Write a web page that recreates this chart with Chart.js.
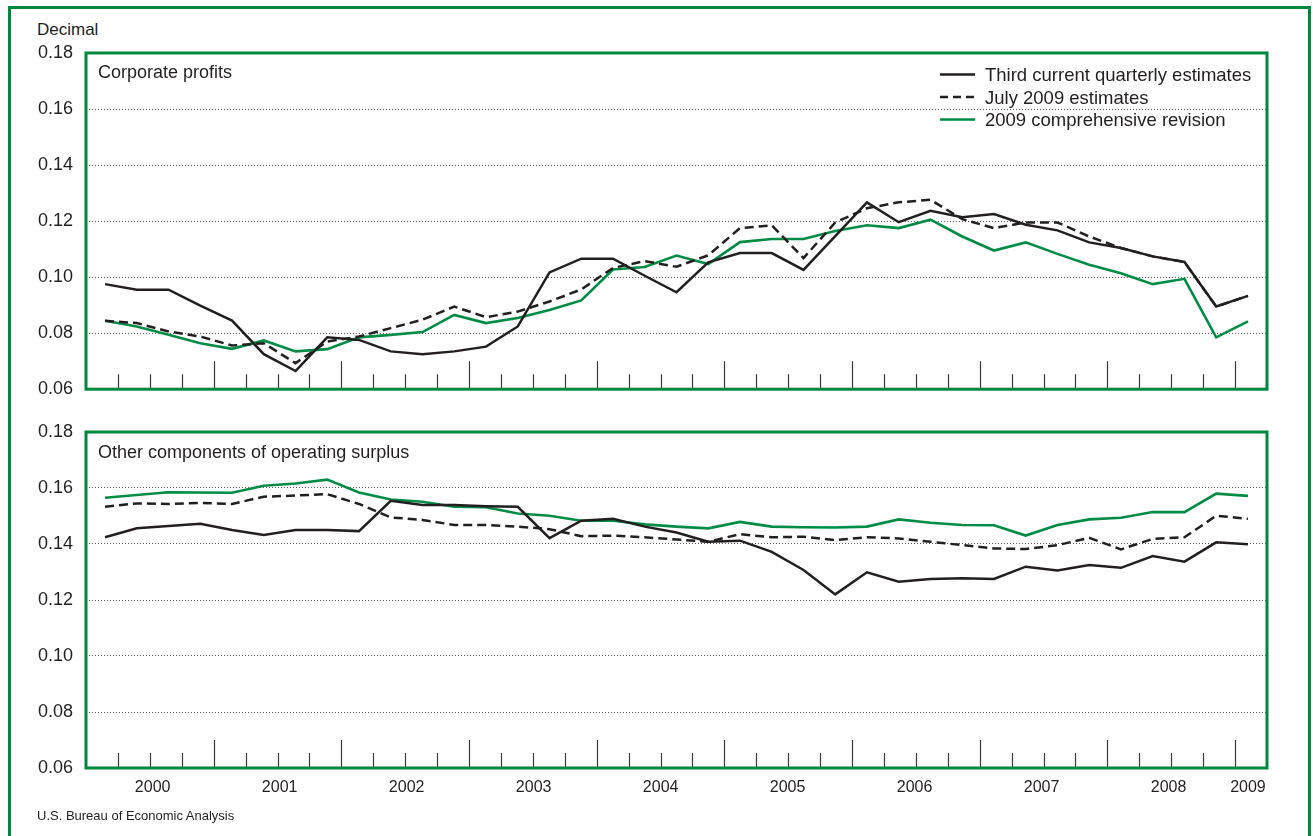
<!DOCTYPE html>
<html>
<head>
<meta charset="utf-8">
<script src="https://cdn.jsdelivr.net/npm/chart.js@4.4.1/dist/chart.umd.min.js"></script>
<style>
  html, body { margin:0; padding:0; background:#fff; width:1313px; height:836px; overflow:hidden;
    font-family:"Liberation Sans", Arial, Helvetica, sans-serif; color:#231f20; }
  #frame { position:absolute; left:8px; top:6px; width:1303px; height:900px; box-sizing:border-box;
    border:3px solid #00873e; }
  canvas { position:absolute; left:0; }
  #c1 { top:0; }
  #c2 { top:400px; }
  #unit { position:absolute; left:37px; top:21px; font-size:17px; line-height:17px; }
  #source { position:absolute; left:37px; top:809px; font-size:13px; line-height:13px; }
</style>
</head>
<body>
<div id="frame"></div>
<div id="unit">Decimal</div>
<canvas id="c1" width="1313" height="413"></canvas>
<canvas id="c2" width="1313" height="436"></canvas>
<div id="source">U.S. Bureau of Economic Analysis</div>
<script>
// ---------- data ----------
const years = ['2000','2001','2002','2003','2004','2005','2006','2007','2008','2009'];
const quarters = [];
for (const y of years) for (const q of ['Q1','Q2','Q3','Q4']) {
  if (quarters.length < 37) quarters.push(y + ' ' + q);
}
const seriesNames = ['Third current quarterly estimates', 'July 2009 estimates', '2009 comprehensive revision'];
const yTicks = [0.06, 0.08, 0.10, 0.12, 0.14, 0.16, 0.18];

// Corporate profits
const cpThird = [0.0975,0.0955,0.0955,0.0898,0.0845,0.0725,0.0665,0.0785,0.0776,0.0735,0.0725,0.0735,0.0752,0.0824,0.1017,0.1066,0.1066,0.1005,0.0946,0.1053,0.1086,0.1086,0.1026,0.1146,0.1267,0.1196,0.1237,0.1214,0.1225,0.1187,0.1167,0.1124,0.1104,0.1074,0.1054,0.0895,0.0933];
const cpJuly  = [0.0844,0.0836,0.0806,0.0788,0.0756,0.0764,0.0693,0.0770,0.0788,0.0818,0.0848,0.0895,0.0857,0.0877,0.0913,0.0956,0.1033,0.1057,0.1037,0.1078,0.1175,0.1185,0.1068,0.1195,0.1246,0.1267,0.1276,0.1207,0.1175,0.1195,0.1195,0.1145,0.1104,0.1074,0.1054,0.0895,0.0933];
const cpComp  = [0.0844,0.0824,0.0794,0.0764,0.0744,0.0774,0.0735,0.0743,0.0785,0.0794,0.0804,0.0865,0.0836,0.0854,0.0883,0.0917,0.1027,0.1036,0.1077,0.1047,0.1125,0.1136,0.1136,0.1165,0.1185,0.1175,0.1205,0.1145,0.1095,0.1124,0.1083,0.1044,0.1014,0.0975,0.0994,0.0785,0.0842];

// Other components of operating surplus
const ocThird = [0.1424,0.1456,0.1464,0.1472,0.1450,0.1432,0.1450,0.1450,0.1446,0.1554,0.1539,0.1539,0.1535,0.1533,0.1421,0.1483,0.1490,0.1462,0.1441,0.1408,0.1412,0.1372,0.1307,0.1220,0.1299,0.1265,0.1275,0.1278,0.1275,0.1319,0.1305,0.1325,0.1315,0.1357,0.1337,0.1406,0.1399];
const ocJuly  = [0.1533,0.1545,0.1543,0.1547,0.1543,0.1569,0.1573,0.1578,0.1543,0.1495,0.1486,0.1468,0.1468,0.1462,0.1453,0.1428,0.1430,0.1424,0.1416,0.1408,0.1435,0.1424,0.1426,0.1414,0.1424,0.1420,0.1408,0.1396,0.1384,0.1382,0.1396,0.1422,0.1381,0.1418,0.1424,0.1501,0.1490];
const ocComp  = [0.1565,0.1575,0.1585,0.1584,0.1583,0.1608,0.1616,0.1630,0.1584,0.1559,0.1551,0.1533,0.1531,0.1509,0.1501,0.1483,0.1483,0.1470,0.1462,0.1456,0.1479,0.1462,0.1460,0.1459,0.1462,0.1488,0.1476,0.1468,0.1467,0.1430,0.1468,0.1488,0.1494,0.1514,0.1514,0.1580,0.1572];

// ---------- styling ----------
const FONT = '"Liberation Sans", Arial, Helvetica, sans-serif';
const INK = '#231f20';
const GREEN = '#00873e';
const LINE_GREEN = '#008c45';
Chart.defaults.font.family = FONT;
Chart.defaults.color = INK;

const yearCenters = years.map(y => {
  const idx = quarters.map((q, i) => q.startsWith(y) ? i : -1).filter(i => i >= 0);
  return idx.reduce((a, b) => a + b, 0) / idx.length;
});

function toXY(arr) { return arr.map((v, i) => ({ x: i, y: v })); }

function makeDatasets(third, july, comp) {
  return [
    { label: seriesNames[0], data: toXY(third), borderColor: INK, borderWidth: 2.5, borderDash: [], order: 0 },
    { label: seriesNames[1], data: toXY(july), borderColor: INK, borderWidth: 2.5, borderDash: [9, 5], order: 1 },
    { label: seriesNames[2], data: toXY(comp), borderColor: LINE_GREEN, borderWidth: 2.6, borderDash: [], order: 2 }
  ].map(d => Object.assign(d, { pointRadius: 0, tension: 0, fill: false }));
}

const panelDecor = {
  id: 'panelDecor',
  beforeDatasetsDraw(chart, args, opts) {
    const { ctx, chartArea: a } = chart;
    const n = quarters.length;
    const bw = (a.right - a.left) / n;
    ctx.save();
    ctx.strokeStyle = '#3a3a3a';
    ctx.lineWidth = 1.2;
    for (let k = 1; k < n; k++) {
      const x = Math.round(a.left + k * bw) + 0.5;
      const len = (k % 4 === 0) ? 28 : 15;
      ctx.beginPath();
      ctx.moveTo(x, a.bottom);
      ctx.lineTo(x, a.bottom - len);
      ctx.stroke();
    }
    ctx.fillStyle = INK;
    ctx.font = '18px ' + FONT;
    ctx.textBaseline = 'alphabetic';
    ctx.textAlign = 'left';
    ctx.fillText(opts.title, a.left + 12, a.top + opts.titleDy);
    ctx.restore();
  },
  afterDatasetsDraw(chart, args, opts) {
    const { ctx, chartArea: a } = chart;
    ctx.save();
    ctx.strokeStyle = GREEN;
    ctx.lineWidth = 3;
    ctx.strokeRect(a.left, a.top, a.right - a.left, a.bottom - a.top);
    if (opts.legend) {
      const x0 = a.right - 327, x1 = a.right - 292, tx = a.right - 282;
      const rows = [a.top + 21.5, a.top + 44, a.top + 66.5];
      ctx.font = '18.5px ' + FONT;
      ctx.textAlign = 'left';
      ctx.textBaseline = 'alphabetic';
      chart.data.datasets.forEach((ds, i) => {
        const y = rows[i];
        ctx.strokeStyle = ds.borderColor;
        ctx.lineWidth = 2.6;
        ctx.setLineDash(ds.borderDash && ds.borderDash.length ? [8, 5] : []);
        ctx.beginPath();
        ctx.moveTo(x0, y);
        ctx.lineTo(x1, y);
        ctx.stroke();
        ctx.setLineDash([]);
        ctx.fillStyle = INK;
        ctx.fillText(ds.label, tx, y + 6.5);
      });
    }
    ctx.restore();
  }
};

function yScale() {
  return {
    min: yTicks[0], max: yTicks[yTicks.length - 1],
    afterBuildTicks: s => { s.ticks = yTicks.map(v => ({ value: v })); },
    afterFit: s => { s.width = 86; },
    ticks: { callback: v => Number(v).toFixed(2), padding: 13, font: { size: 18 }, color: INK },
    grid: {
      drawTicks: false, lineWidth: 1,
      color: c => (c.index === 0 || c.index === yTicks.length - 1) ? 'rgba(0,0,0,0)' : '#5e5e5e'
    },
    border: { display: false, dash: [1, 2] }
  };
}

function baseOptions(padding, xScale, decor) {
  return {
    responsive: false, animation: false, devicePixelRatio: 1,
    layout: { padding },
    plugins: { legend: { display: false }, tooltip: { enabled: false }, panelDecor: decor },
    scales: { x: xScale, y: yScale() }
  };
}

new Chart(document.getElementById('c1'), {
  type: 'line',
  data: { datasets: makeDatasets(cpThird, cpJuly, cpComp) },
  options: baseOptions(
    { top: 53, right: 46, bottom: 11, left: 0 },
    { type: 'linear', min: -0.6, max: quarters.length - 0.4, display: false },
    { title: 'Corporate profits', titleDy: 25, legend: true }
  ),
  plugins: [panelDecor]
});

new Chart(document.getElementById('c2'), {
  type: 'line',
  data: { datasets: makeDatasets(ocThird, ocJuly, ocComp) },
  options: baseOptions(
    { top: 32, right: 46, bottom: 38, left: 0 },
    {
      type: 'linear', min: -0.6, max: quarters.length - 0.4,
      afterBuildTicks: s => { s.ticks = yearCenters.map(v => ({ value: v })); },
      afterFit: s => { s.height = 30; },
      ticks: { callback: (v, i) => years[i], autoSkip: false, maxRotation: 0, padding: 10, font: { size: 16 }, color: INK },
      grid: { display: false, drawTicks: false },
      border: { display: false }
    },
    { title: 'Other components of operating surplus', titleDy: 26, legend: false }
  ),
  plugins: [panelDecor]
});
</script>
</body>
</html>
